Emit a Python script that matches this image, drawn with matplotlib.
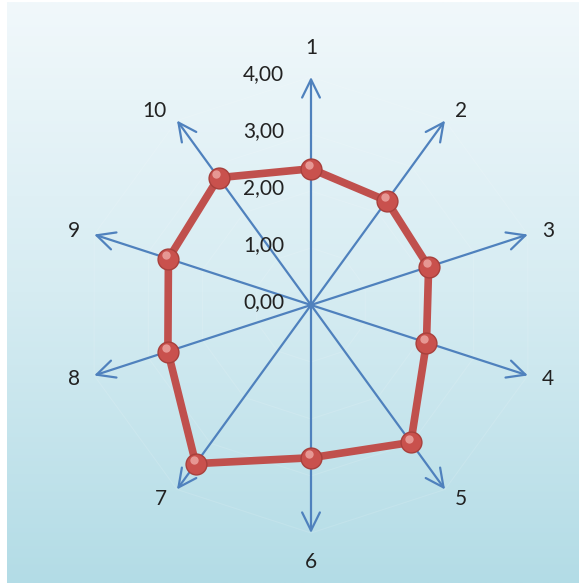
import numpy as np
import matplotlib.pyplot as plt
from matplotlib.colors import LinearSegmentedColormap
from matplotlib.transforms import ScaledTranslation

categories = ["1", "2", "3", "4", "5", "6", "7", "8", "9", "10"]
values = [2.39, 2.26, 2.17, 2.13, 2.98, 2.68, 3.44, 2.64, 2.63, 2.76]
radial_ticks = [0, 1, 2, 3, 4]
radial_labels = ["0,00", "1,00", "2,00", "3,00", "4,00"]

plt.rcParams["font.family"] = ["Lato", "DejaVu Sans"]

W, H = 579, 583
fig = plt.figure(figsize=(W / 100, H / 100), dpi=100)

# gradient backdrop
bg = fig.add_axes([7 / W, 0, 1 - 7 / W, 1 - 2 / H])
grad = np.linspace(0, 1, 256).reshape(-1, 1)
cmap = LinearSegmentedColormap.from_list("bg", ["#f1f8fb", "#d6ecf2", "#b3dce6"])
bg.imshow(grad, aspect="auto", cmap=cmap, extent=[0, 1, 0, 1])
bg.axis("off")

# polar axes centred on the chart origin
cx, cy = 311, 305
px_per_unit = 57
rmax = 4.8
R = rmax * px_per_unit
ax = fig.add_axes([(cx - R) / W, (H - cy - R) / H, 2 * R / W, 2 * R / H],
                  projection="polar")
ax.set_theta_zero_location("N")
ax.set_theta_direction(-1)
ax.set_ylim(0, rmax)
ax.set_axis_off()

n = len(categories)
angles = np.arange(n) * 2 * np.pi / n
closed_angles = np.append(angles, angles[0])

# faint polygon gridlines
for r in radial_ticks[1:]:
    ax.plot(closed_angles, [r] * (n + 1), color="white", alpha=0.12, lw=0.8, zorder=1)

axis_color = "#4f81bd"
top = radial_ticks[-1]
for th, lab in zip(angles, categories):
    ax.annotate("", xy=(th, top), xytext=(th, 0),
                arrowprops=dict(arrowstyle="->,head_length=0.65,head_width=0.32",
                                color=axis_color, lw=1.6, shrinkA=0, shrinkB=0,
                                mutation_scale=20),
                zorder=2)
    s, c = np.sin(th), np.cos(th)
    if abs(s) < 0.1:
        xy_off, ha = (0, 29 * c), "center"
    else:
        xy_off = (np.sign(s) * (3 + 12 * abs(s)), 12 * c)
        ha = "left" if s > 0 else "right"
    ax.annotate(lab, xy=(th, top), xytext=xy_off, textcoords="offset pixels",
                ha=ha, va="center", fontsize=15, color="#222222")

for r, lab in zip(radial_ticks, radial_labels):
    ax.annotate(lab, xy=(0, r), xytext=(-27, 3), textcoords="offset pixels",
                ha="right", va="center", fontsize=15, color="#222222")

closed_vals = np.append(values, values[0])
ax.plot(closed_angles, closed_vals, color="#c0504d", lw=5.5,
        solid_joinstyle="round", zorder=3)
ax.plot(angles, values, ls="none", marker="o", markersize=15,
        mfc="#c9514d", mec="#a8403c", mew=1, zorder=4)
hl = ax.transData + ScaledTranslation(-1.5 / 72, 2.5 / 72, fig.dpi_scale_trans)
ax.plot(angles, values, ls="none", marker="o", markersize=6, mfc="#eeaaa6",
        mec="none", alpha=0.8, transform=hl, zorder=5)

fig.savefig("out.png", dpi=100)
